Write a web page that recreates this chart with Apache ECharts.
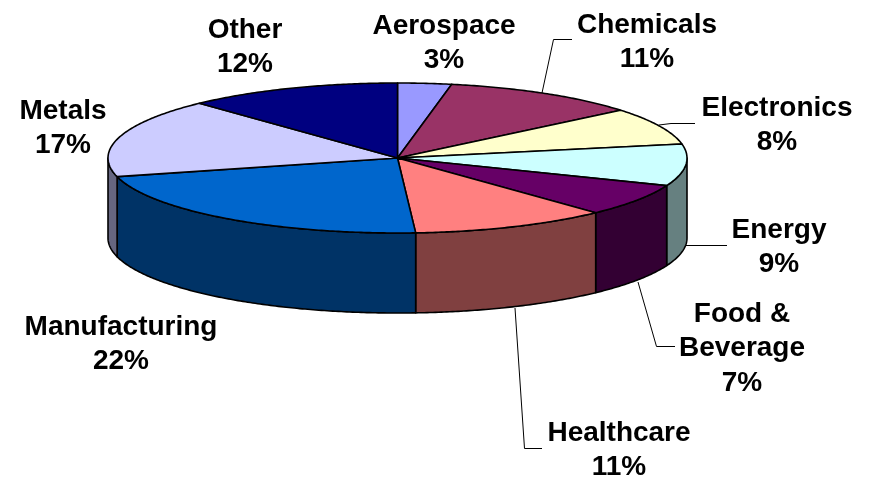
<!DOCTYPE html>
<html>
<head>
<meta charset="utf-8">
<script src="https://cdn.jsdelivr.net/npm/echarts@6/dist/echarts.min.js"></script>
<style>
  html, body { margin: 0; padding: 0; background: #fff; }
  #chart { width: 872px; height: 477px; }
</style>
</head>
<body>
<div id="chart"></div>
<script>
const sectors = ['Aerospace', 'Chemicals', 'Electronics', 'Energy', 'Food &\nBeverage', 'Healthcare', 'Manufacturing', 'Metals', 'Other']
const shares = [3, 11, 8, 9, 7, 11, 22, 17, 12]
const topColors = ['#9999ff', '#993366', '#ffffcc', '#ccffff', '#660066', '#ff8080', '#0066cc', '#ccccff', '#000080']
const sideColors = ['#4d4d80', '#4d1a33', '#808066', '#668080', '#330033', '#804040', '#003366', '#666680', '#000040']

// 饼图的椭圆参数
const cx = 397.5, cy = 158, rx = 289.5, ry = 75, depth = 80

// 标签位置（第一行的中心点）
const labelPos = [
  [444, 25], [647, 24], [777, 107], [779, 229], [742, 313], [619, 432], [121, 326], [63, 110], [245, 29]
]
// 引导线
const leaders = [
  null,
  [[542, 93], [553.5, 39.5], [572, 39.5]],
  [[659, 125], [671, 123.5], [695, 123.5]],
  [[686, 245.5], [727, 245.5]],
  [[638, 282], [656.5, 346.5], [675, 346.5]],
  [[515, 308], [524.5, 448.5], [542, 448.5]],
  null, null, null
]

const total = shares.reduce((a, b) => a + b, 0)
const starts = []
shares.reduce((acc, v, i) => { starts[i] = acc; return acc + v }, 0)

function rimPoint(theta, dy) {
  return [cx + rx * Math.sin(theta), cy - ry * Math.cos(theta) + (dy || 0)]
}

function arcPoints(a0, a1, dy) {
  const pts = []
  const n = Math.max(2, Math.ceil((a1 - a0) / 0.01))
  for (let k = 0; k <= n; k++) pts.push(rimPoint(a0 + (a1 - a0) * k / n, dy))
  return pts
}

function renderSlice(params, api) {
  const i = params.dataIndex
  const a0 = starts[i] / total * Math.PI * 2
  const a1 = (starts[i] + api.value(0)) / total * Math.PI * 2
  const children = []
  // 侧面只画朝前的部分（90° 到 270°）
  const s0 = Math.max(a0, Math.PI / 2)
  const s1 = Math.min(a1, Math.PI * 1.5)
  if (s1 > s0) {
    children.push({
      type: 'polygon',
      shape: { points: arcPoints(s0, s1, 0).concat(arcPoints(s0, s1, depth).reverse()) },
      style: { fill: sideColors[i], stroke: '#000', lineWidth: 1.6, lineJoin: 'round' }
    })
  }
  children.push({
    type: 'polygon',
    shape: { points: [[cx, cy]].concat(arcPoints(a0, a1, 0)) },
    style: { fill: topColors[i], stroke: '#000', lineWidth: 1.6, lineJoin: 'round' }
  })
  return { type: 'group', children }
}

function renderLabel(params, api) {
  const i = params.dataIndex
  const children = []
  if (leaders[i]) {
    children.push({
      type: 'polyline',
      shape: { points: leaders[i] },
      style: { fill: null, stroke: '#000', lineWidth: 1 }
    })
  }
  children.push({
    type: 'text',
    x: labelPos[i][0],
    y: labelPos[i][1] - 16,
    style: {
      text: sectors[i] + '\n' + api.value(0) + '%',
      fill: '#000',
      font: 'bold 28px "Liberation Sans", Arial, sans-serif',
      lineHeight: 34.5,
      align: 'center',
      verticalAlign: 'top'
    }
  })
  return { type: 'group', children }
}

const chart = echarts.init(document.getElementById('chart'))
chart.setOption({
  animation: false,
  backgroundColor: '#fff',
  series: [
    {
      type: 'custom',
      coordinateSystem: 'none',
      renderItem: renderSlice,
      data: shares.map(v => [v]),
      z: 2
    },
    {
      type: 'custom',
      coordinateSystem: 'none',
      renderItem: renderLabel,
      data: shares.map(v => [v]),
      z: 3
    }
  ]
})
</script>
</body>
</html>
